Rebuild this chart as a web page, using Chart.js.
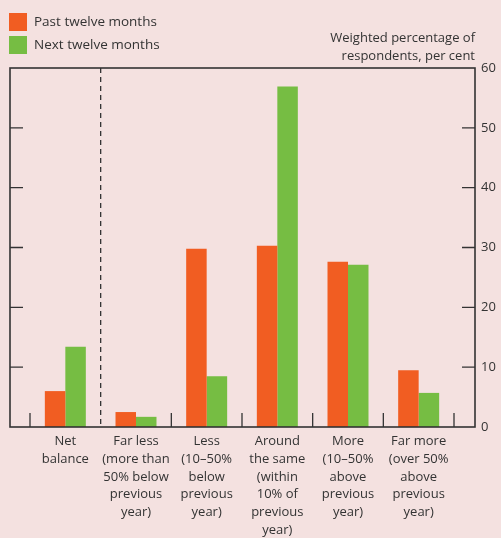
<!DOCTYPE html>
<html>
<head>
<meta charset="utf-8">
<script src="https://cdn.jsdelivr.net/npm/chart.js@4.4.0/dist/chart.umd.min.js"></script>
<style>
html,body{margin:0;padding:0;background:#f4e1e0;}
#wrap{position:relative;width:501px;height:538px;}
</style>
</head>
<body>
<div id="wrap"><canvas id="c" width="501" height="538"></canvas></div>
<script>
const categories = [
  ['Net', 'balance'],
  ['Far less', '(more than', '50% below', 'previous', 'year)'],
  ['Less', '(10\u201350%', 'below', 'previous', 'year)'],
  ['Around', 'the same', '(within', '10% of', 'previous', 'year)'],
  ['More', '(10\u201350%', 'above', 'previous', 'year)'],
  ['Far more', '(over 50%', 'above', 'previous', 'year)']
];
const pastTwelveMonths = [6.0, 2.5, 29.8, 30.3, 27.6, 9.5];
const nextTwelveMonths = [13.4, 1.7, 8.5, 56.9, 27.1, 5.7];
const seriesNames = ['Past twelve months', 'Next twelve months'];
const axisTitle = ['Weighted percentage of', 'respondents, per cent'];
const yTicks = [0, 10, 20, 30, 40, 50, 60];

const ORANGE = '#f15d22';
const GREEN = '#76bd43';
const INK = '#333333';
const FONT = '"Open Sans", "Noto Sans", sans-serif';

const decor = {
  id: 'decor',
  beforeDatasetsDraw(chart) {
    const {ctx, chartArea: a, scales: {x, y}} = chart;
    const boxL = a.left - 20, boxR = a.right + 21;
    ctx.save();
    // dashed separator between first and second category
    const sep = (x.getPixelForValue(0) + x.getPixelForValue(1)) / 2;
    ctx.strokeStyle = INK;
    ctx.lineWidth = 1.3;
    ctx.setLineDash([5, 4]);
    ctx.beginPath();
    ctx.moveTo(sep, a.top);
    ctx.lineTo(sep, a.bottom);
    ctx.stroke();
    ctx.restore();
  },
  afterDatasetsDraw(chart) {
    const {ctx, chartArea: a, scales: {x, y}} = chart;
    const boxL = a.left - 20, boxR = a.right + 21;
    ctx.save();
    ctx.strokeStyle = INK;
    ctx.lineWidth = 1.6;
    ctx.strokeRect(boxL, a.top, boxR - boxL, a.bottom - a.top);
    // y ticks inward on both sides
    ctx.lineWidth = 1.3;
    yTicks.forEach(v => {
      if (v === yTicks[0] || v === yTicks[yTicks.length - 1]) return;
      const py = y.getPixelForValue(v);
      ctx.beginPath();
      ctx.moveTo(boxL, py); ctx.lineTo(boxL + 13, py);
      ctx.moveTo(boxR, py); ctx.lineTo(boxR - 13, py);
      ctx.stroke();
    });
    // x category boundary ticks
    const n = categories.length;
    const half = (x.getPixelForValue(1) - x.getPixelForValue(0)) / 2;
    for (let i = 0; i <= n; i++) {
      if (i === 1) continue;
      const px = x.getPixelForValue(0) - half + i * 2 * half;
      ctx.beginPath();
      ctx.moveTo(px, a.bottom); ctx.lineTo(px, a.bottom - 14);
      ctx.stroke();
    }
    // legend
    ctx.font = '13.5px ' + FONT;
    ctx.textBaseline = 'middle';
    ctx.textAlign = 'left';
    const colors = [ORANGE, GREEN];
    seriesNames.forEach((name, i) => {
      const cy = 22 + i * 23;
      ctx.fillStyle = colors[i];
      ctx.fillRect(9, cy - 9, 18, 18);
      ctx.fillStyle = INK;
      ctx.fillText(name, 34, cy);
    });
    // axis title
    ctx.textAlign = 'right';
    ctx.font = '13px ' + FONT;
    axisTitle.forEach((t, i) => ctx.fillText(t, boxR, 38 + i * 18));
    ctx.restore();
  }
};

new Chart(document.getElementById('c'), {
  type: 'bar',
  data: {
    labels: categories,
    datasets: [
      {label: seriesNames[0], data: pastTwelveMonths, backgroundColor: ORANGE},
      {label: seriesNames[1], data: nextTwelveMonths, backgroundColor: GREEN}
    ]
  },
  options: {
    responsive: false,
    animation: false,
    devicePixelRatio: 1,
    layout: {padding: {left: 30, top: 68, right: 0, bottom: 0}},
    datasets: {bar: {barPercentage: 1.0, categoryPercentage: 0.58}},
    plugins: {legend: {display: false}, tooltip: {enabled: false}},
    scales: {
      x: {
        offset: true,
        grid: {display: false, drawTicks: false},
        border: {display: false},
        ticks: {
          autoSkip: false, maxRotation: 0, minRotation: 0, padding: 5,
          color: INK, font: {family: FONT, size: 13, lineHeight: 1.38}
        },
        afterFit(s) { s.height = 111; }
      },
      y: {
        position: 'right',
        min: 0, max: 60,
        grid: {display: false, drawTicks: false},
        border: {display: false},
        ticks: {stepSize: 10, padding: 27, color: INK, font: {family: FONT, size: 13}},
        afterFit(s) { s.width = 47; }
      }
    }
  },
  plugins: [decor]
});
</script>
</body>
</html>
